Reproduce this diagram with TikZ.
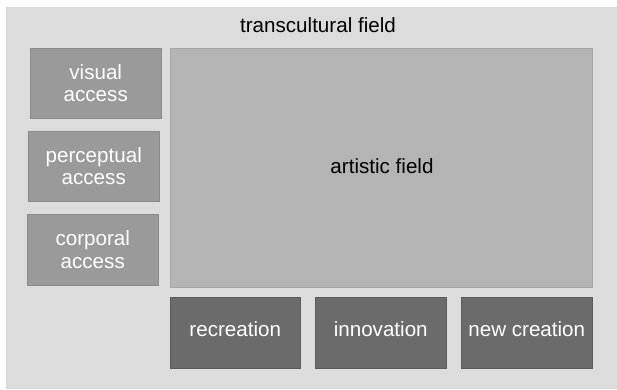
\documentclass[tikz,border=0pt]{standalone}
\usepackage{fontspec}
\setmainfont{Liberation Sans}
\definecolor{fieldgray}{HTML}{DCDCDC}
\definecolor{artgray}{HTML}{B4B4B4}
\definecolor{accessgray}{HTML}{9A9A9A}
\definecolor{outcomegray}{HTML}{6B6B6B}
\newcommand{\boxfont}{\fontsize{20.6}{22.5}\selectfont}
\tikzset{
  accessbox/.style={fill=accessgray, draw=accessgray!90!black, line width=0.5pt,
    minimum width=131pt, minimum height=70pt, text=white, align=center,
    font=\boxfont, anchor=north west, inner sep=0pt},
  outcomebox/.style={fill=outcomegray, draw=outcomegray!85!black, line width=0.5pt,
    minimum width=131pt, minimum height=71pt, text=white, align=center,
    font=\boxfont, anchor=north west, inner sep=0pt, text depth=7pt},
}
\begin{document}
\begin{tikzpicture}[x=1pt,y=-1pt]
    \useasboundingbox (0,0) rectangle (617,389);
    % transkulturelles Feld als Hintergrund
    \fill[fieldgray] (6,7) rectangle (617,389);
    \node[font=\boxfont] (transfield) at (318,25) {transcultural field};

    % Zugangsformen links
    \node[accessbox] (visual) at (30,48) {visual\\access};
    \node[accessbox] (perceptual) at (28,131) {perceptual\\access};
    \node[accessbox, minimum height=71pt] (corporal) at (27,214) {corporal\\access};

    % künstlerisches Feld
    \node[fill=artgray, draw=artgray!92!black, line width=0.5pt, minimum width=422pt,
      minimum height=239pt, anchor=north west, inner sep=0pt] (artfield) at (170,48) {};
    \node[font=\boxfont] (artlabel) at (382,166) {artistic field};

    % Ergebnisse unten
    \node[outcomebox, minimum width=130pt] (recreation) at (170,297) {recreation};
    \node[outcomebox] (innovation) at (315,297) {innovation};
    \node[outcomebox] (newcreation) at (461,297) {new creation};
\end{tikzpicture}
\end{document}
